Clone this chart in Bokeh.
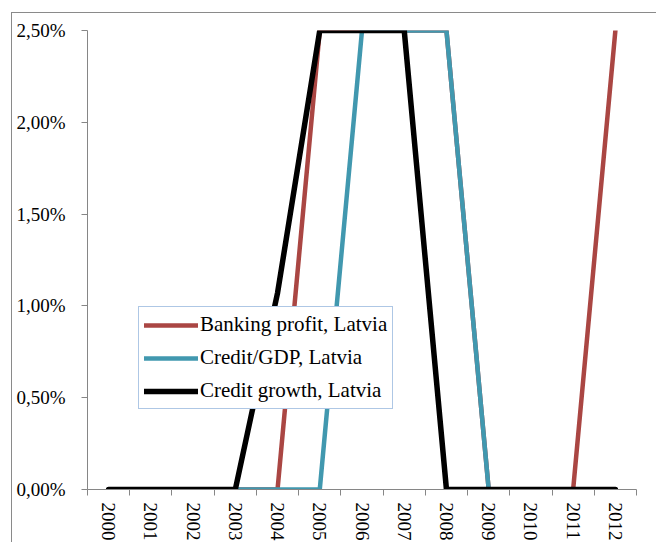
from bokeh.plotting import figure
from bokeh.models import Range1d, FixedTicker, Legend, LegendItem
from bokeh.embed import file_html
from bokeh.resources import INLINE

years = ["2000", "2001", "2002", "2003", "2004", "2005", "2006",
         "2007", "2008", "2009", "2010", "2011", "2012"]
banking_profit = [0, 0, 0, 0, 0, 2.5, 2.5, 2.5, 2.5, 0, 0, 0, 2.5]
credit_gdp = [0, 0, 0, 0, 0, 0, 2.5, 2.5, 2.5, 0, 0, 0, 0]
credit_growth = [0, 0, 0, 0, 1.07, 2.5, 2.5, 2.5, 0, 0, 0, 0, 0]
y_ticks = [0.0, 0.5, 1.0, 1.5, 2.0, 2.5]
y_labels = ["0,00%", "0,50%", "1,00%", "1,50%", "2,00%", "2,50%"]
series_names = ["Banking profit, Latvia", "Credit/GDP, Latvia", "Credit growth, Latvia"]

xpos = [i + 0.5 for i in range(len(years))]
FONT = "Liberation Serif"
AXIS_COL = "#868686"

p = figure(width=645, height=530, output_backend="svg", toolbar_location=None,
           x_range=Range1d(0, len(years)), y_range=Range1d(0, 2.5),
           min_border_left=75, min_border_right=21, min_border_top=17,
           min_border_bottom=51)
p.styles = {"margin-left": "11px", "margin-top": "12px",
            "border-left": "1px solid #8a8a8a", "border-top": "1px solid #8a8a8a"}
p.outline_line_color = None
p.xgrid.visible = False
p.ygrid.visible = False

# x axis: labels at category centres, tick marks at boundaries
p.xaxis.ticker = FixedTicker(ticks=xpos, minor_ticks=list(range(len(years) + 1)))
p.xaxis.major_label_overrides = {x: y for x, y in zip(xpos, years)}
p.xaxis.major_tick_out = 0
p.xaxis.major_tick_in = 0
p.xaxis.minor_tick_out = 6
p.xaxis.minor_tick_in = 0
p.xaxis.minor_tick_line_color = AXIS_COL
p.xaxis.axis_line_color = AXIS_COL
p.xaxis.major_label_orientation = "vertical"
p.xaxis.major_label_standoff = 7
p.xaxis.major_label_text_font = FONT
p.xaxis.major_label_text_font_size = "19px"
p.xaxis.major_label_text_color = "black"

p.yaxis.ticker = FixedTicker(ticks=y_ticks, minor_ticks=[])
p.yaxis.major_label_overrides = {t: l for t, l in zip(y_ticks, y_labels)}
p.yaxis.major_tick_out = 6
p.yaxis.major_tick_in = 0
p.yaxis.minor_tick_out = 0
p.yaxis.major_tick_line_color = AXIS_COL
p.yaxis.axis_line_color = AXIS_COL
p.yaxis.major_label_standoff = 16
p.yaxis.major_label_text_font = FONT
p.yaxis.major_label_text_font_size = "19px"
p.yaxis.major_label_text_color = "black"

r1 = p.line(xpos, banking_profit, line_color="#AA4643", line_width=4.5,
            line_cap="round", line_join="miter")
r2 = p.line(xpos, credit_gdp, line_color="#4198AF", line_width=4.5,
            line_cap="round", line_join="miter")
r3 = p.line(xpos, credit_growth, line_color="black", line_width=5.5,
            line_cap="round", line_join="miter")

legend = Legend(items=[LegendItem(label=series_names[0], renderers=[r1]),
                       LegendItem(label=series_names[1], renderers=[r2]),
                       LegendItem(label=series_names[2], renderers=[r3])],
                location=(51, 80))
legend.label_text_font = FONT
legend.label_text_font_size = "21px"
legend.label_text_color = "black"
legend.glyph_width = 54
legend.glyph_height = 20
legend.label_height = 20
legend.label_standoff = 2
legend.spacing = 8
legend.padding = 5
legend.margin = 0
legend.border_line_color = "#5E8FCB"
legend.border_line_width = 1.5
legend.background_fill_color = "white"
legend.background_fill_alpha = 1.0
p.add_layout(legend)

open("out.html", "w").write(file_html(p, INLINE))
